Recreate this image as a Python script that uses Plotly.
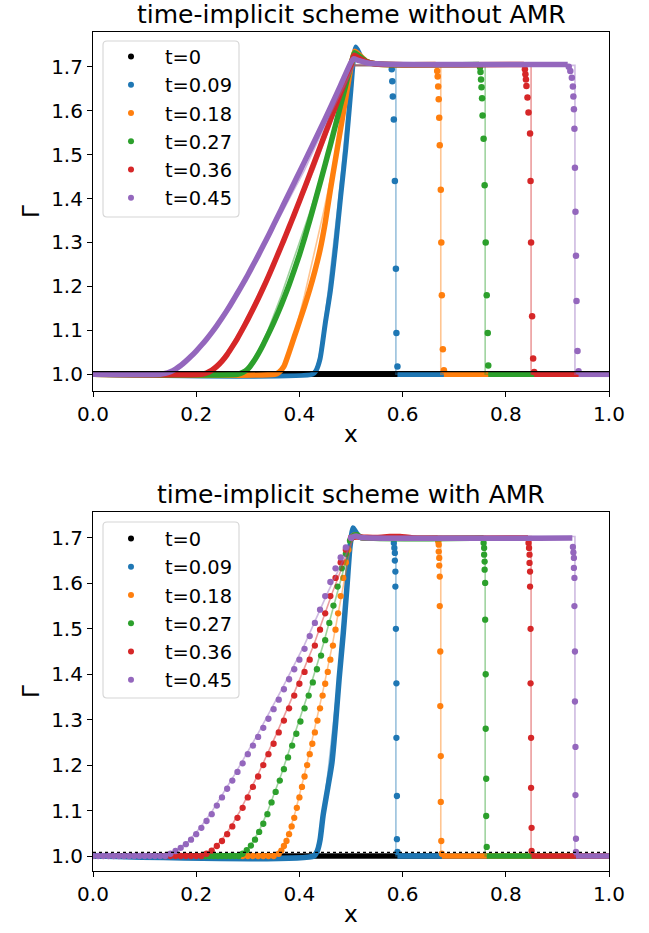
import plotly.graph_objects as go

# ---------------- labels / colours ----------------
LABELS = ["t=0", "t=0.09", "t=0.18", "t=0.27", "t=0.36", "t=0.45"]
COLORS = ["#000000", "#1f77b4", "#ff7f0e", "#2ca02c", "#d62728", "#9467bd"]
X_TICKS = [0.0, 0.2, 0.4, 0.6, 0.8, 1.0]
Y_TICKS = [1.0, 1.1, 1.2, 1.3, 1.4, 1.5, 1.6, 1.7]
TITLE_TOP = "time-implicit scheme without AMR"
TITLE_BOT = "time-implicit scheme with AMR"

# ---------------- exact solutions (faint lines) ----------------
exact_x_t0 = [0.0, 1.0]
exact_y_t0 = [1.0, 1.0]
exact_y_rare = [1.0, 1.0, 1.013, 1.033, 1.062, 1.097, 1.18, 1.27, 1.365, 1.465, 1.58, 1.69, 1.703, 1.703, 1.0, 1.0]
exact_x_t009 = [0.0, 0.428, 0.4325, 0.437, 0.4415, 0.446, 0.455, 0.464, 0.473, 0.482, 0.491, 0.5, 0.5014, 0.587, 0.587, 1.0]
exact_x_t018 = [0.0, 0.356, 0.365, 0.374, 0.383, 0.392, 0.41, 0.428, 0.446, 0.464, 0.482, 0.5, 0.5027, 0.674, 0.674, 1.0]
exact_x_t027 = [0.0, 0.284, 0.2975, 0.311, 0.3245, 0.338, 0.365, 0.392, 0.419, 0.446, 0.473, 0.5, 0.504, 0.760, 0.760, 1.0]
exact_x_t036 = [0.0, 0.212, 0.23, 0.248, 0.266, 0.284, 0.32, 0.356, 0.392, 0.428, 0.464, 0.5, 0.5054, 0.849, 0.849, 1.0]
exact_x_t045 = [0.0, 0.14, 0.1625, 0.185, 0.2075, 0.23, 0.275, 0.32, 0.365, 0.41, 0.455, 0.5, 0.5068, 0.934, 0.934, 1.0]

# ---------------- top panel (no AMR): dense numerical solution ----------------
top_body_x_t0 = [0.0, 1.0]
top_body_y_t0 = [1.0, 1.0]

top_body_x_t009 = [0.0, 0.425, 0.432, 0.44, 0.45, 0.46, 0.47, 0.48, 0.49, 0.50, 0.505, 0.509, 0.513, 0.52, 0.53, 0.545, 0.577]
top_body_y_t009 = [1.0, 1.0, 1.008, 1.035, 1.115, 1.19, 1.29, 1.405, 1.515, 1.65, 1.72, 1.745, 1.738, 1.722, 1.712, 1.707, 1.705]
top_shock_x_t009 = [0.579, 0.580, 0.581, 0.583, 0.585, 0.587, 0.588, 0.590]
top_shock_y_t009 = [1.694, 1.667, 1.632, 1.58, 1.44, 1.24, 1.094, 1.018]
top_right_x_t009 = [0.590, 1.0]

top_body_x_t018 = [0.0, 0.352, 0.36, 0.37, 0.38, 0.39, 0.40, 0.41, 0.42, 0.43, 0.44, 0.45, 0.46, 0.47, 0.48, 0.49, 0.50, 0.507, 0.515, 0.53, 0.55, 0.664]
top_body_y_t018 = [1.0, 1.0, 1.004, 1.018, 1.05, 1.085, 1.12, 1.155, 1.193, 1.235, 1.283, 1.345, 1.42, 1.49, 1.56, 1.63, 1.70, 1.735, 1.728, 1.712, 1.706, 1.705]
top_shock_x_t018 = [0.667, 0.668, 0.669, 0.670, 0.671, 0.672, 0.674, 0.675, 0.676, 0.678, 0.680]
top_shock_y_t018 = [1.69, 1.678, 1.655, 1.626, 1.584, 1.521, 1.42, 1.30, 1.18, 1.057, 1.009]
top_right_x_t018 = [0.680, 1.0]

top_body_x_t027 = [0.0, 0.28, 0.29, 0.30, 0.31, 0.32, 0.33, 0.34, 0.35, 0.36, 0.37, 0.38, 0.39, 0.40, 0.41, 0.42, 0.43, 0.44, 0.45, 0.46, 0.47, 0.48, 0.49, 0.50, 0.507, 0.515, 0.53, 0.55, 0.748]
top_body_y_t027 = [1.0, 1.0, 1.004, 1.012, 1.027, 1.046, 1.068, 1.092, 1.117, 1.144, 1.173, 1.204, 1.237, 1.272, 1.31, 1.35, 1.392, 1.435, 1.478, 1.522, 1.567, 1.613, 1.659, 1.705, 1.732, 1.725, 1.712, 1.706, 1.705]
top_shock_x_t027 = [0.750, 0.751, 0.752, 0.753, 0.754, 0.755, 0.757, 0.759, 0.761, 0.763, 0.765, 0.766]
top_shock_y_t027 = [1.699, 1.688, 1.671, 1.653, 1.628, 1.589, 1.536, 1.43, 1.30, 1.18, 1.094, 1.02]
top_right_x_t027 = [0.766, 1.0]

top_body_x_t036 = [0.0, 0.21, 0.22, 0.23, 0.24, 0.25, 0.26, 0.27, 0.28, 0.29, 0.30, 0.31, 0.32, 0.33, 0.34, 0.35, 0.36, 0.37, 0.38, 0.39, 0.40, 0.41, 0.42, 0.43, 0.44, 0.45, 0.46, 0.47, 0.48, 0.49, 0.50, 0.506, 0.515, 0.53, 0.55, 0.835]
top_body_y_t036 = [1.0, 1.0, 1.003, 1.009, 1.018, 1.03, 1.045, 1.063, 1.082, 1.103, 1.125, 1.148, 1.172, 1.197, 1.223, 1.25, 1.278, 1.306, 1.335, 1.364, 1.394, 1.424, 1.455, 1.486, 1.517, 1.548, 1.579, 1.61, 1.642, 1.674, 1.706, 1.726, 1.72, 1.711, 1.706, 1.705]
top_shock_x_t036 = [0.837, 0.838, 0.839, 0.840, 0.842, 0.844, 0.847, 0.848, 0.849, 0.851, 0.853, 0.855]
top_shock_y_t036 = [1.694, 1.683, 1.671, 1.656, 1.630, 1.596, 1.548, 1.44, 1.30, 1.132, 1.036, 1.005]
top_right_x_t036 = [0.855, 1.0]

top_body_x_t045 = [0.0, 0.13, 0.14, 0.15, 0.16, 0.17, 0.18, 0.19, 0.20, 0.21, 0.22, 0.23, 0.24, 0.25, 0.26, 0.27, 0.28, 0.29, 0.30, 0.31, 0.32, 0.33, 0.34, 0.35, 0.36, 0.37, 0.38, 0.39, 0.40, 0.42, 0.44, 0.46, 0.48, 0.50, 0.505, 0.515, 0.53, 0.56, 0.92]
top_body_y_t045 = [1.0, 1.0, 1.002, 1.006, 1.012, 1.02, 1.03, 1.041, 1.053, 1.066, 1.08, 1.095, 1.111, 1.128, 1.146, 1.165, 1.185, 1.205, 1.226, 1.248, 1.27, 1.293, 1.316, 1.34, 1.364, 1.388, 1.412, 1.436, 1.46, 1.508, 1.557, 1.607, 1.658, 1.71, 1.718, 1.714, 1.709, 1.706, 1.705]
top_shock_x_t045 = [0.922, 0.925, 0.928, 0.930, 0.931, 0.932, 0.933, 0.934, 0.935, 0.936, 0.937, 0.939, 0.941]
top_shock_y_t045 = [1.700, 1.69, 1.675, 1.655, 1.632, 1.603, 1.559, 1.47, 1.37, 1.27, 1.167, 1.053, 1.007]
top_right_x_t045 = [0.941, 1.0]

# ---------------- bottom panel (AMR) ----------------
bot_body_x_t0 = [0.0, 1.0]
bot_body_y_t0 = [1.0, 1.0]

bot_body_x_t009 = [0.0, 0.428, 0.435, 0.44, 0.446, 0.455, 0.463, 0.47, 0.477, 0.485, 0.492, 0.498, 0.504, 0.508, 0.515, 0.52, 0.582]
bot_body_y_t009 = [1.0, 1.0, 1.012, 1.035, 1.09, 1.15, 1.205, 1.29, 1.39, 1.49, 1.59, 1.68, 1.722, 1.715, 1.704, 1.70, 1.70]
bot_shock_x_t009 = [0.583, 0.584, 0.585, 0.585, 0.586, 0.586, 0.587, 0.588, 0.588, 0.589, 0.589, 0.590]
bot_shock_y_t009 = [1.689, 1.678, 1.667, 1.650, 1.626, 1.593, 1.50, 1.38, 1.26, 1.132, 1.037, 1.009]
bot_right_x_t009 = [0.590, 1.0]

bot_dots_x_t018 = [0.29, 0.30, 0.31, 0.32, 0.33, 0.34, 0.35,
                   0.360, 0.365, 0.370, 0.375, 0.380, 0.385, 0.390, 0.395, 0.400, 0.405, 0.410, 0.415, 0.420, 0.425,
                   0.430, 0.435, 0.440, 0.445, 0.450, 0.455, 0.460, 0.465, 0.470, 0.475, 0.480, 0.485, 0.490, 0.495, 0.500]
bot_dots_y_t018 = [1.0, 1.0, 1.0, 1.0, 1.0, 1.0, 1.0,
                   1.005, 1.012, 1.022, 1.033, 1.048, 1.065, 1.084, 1.106, 1.129, 1.152, 1.175, 1.200, 1.224, 1.247,
                   1.272, 1.298, 1.325, 1.353, 1.379, 1.405, 1.432, 1.463, 1.498, 1.534, 1.572, 1.612, 1.646, 1.674, 1.700]
bot_plat_x_t018 = [0.50, 0.505, 0.51, 0.52, 0.668]
bot_plat_y_t018 = [1.70, 1.706, 1.706, 1.701, 1.70]
bot_shock_x_t018 = [0.669, 0.670, 0.670, 0.671, 0.671, 0.672, 0.672, 0.673, 0.673, 0.674, 0.674, 0.675, 0.676]
bot_shock_y_t018 = [1.692, 1.685, 1.670, 1.656, 1.639, 1.615, 1.55, 1.45, 1.33, 1.22, 1.119, 1.033, 1.005]
bot_right_x_t018 = [0.676, 1.0]

bot_dots_x_t027 = [0.21, 0.218, 0.226, 0.234, 0.242, 0.25, 0.258, 0.266, 0.274, 0.282,
                   0.29, 0.298, 0.306, 0.314, 0.322, 0.33, 0.338, 0.346, 0.354, 0.362, 0.37, 0.378, 0.386, 0.394,
                   0.402, 0.41, 0.418, 0.426, 0.434, 0.442, 0.45, 0.458, 0.466, 0.474, 0.482, 0.49, 0.498]
bot_dots_y_t027 = [1.0, 1.0, 1.0, 1.0, 1.0, 1.0, 1.0, 1.0, 1.0, 1.0,
                   1.005, 1.013, 1.023, 1.036, 1.053, 1.071, 1.092, 1.118, 1.141, 1.166, 1.191, 1.217, 1.243, 1.269,
                   1.296, 1.325, 1.353, 1.382, 1.411, 1.441, 1.475, 1.513, 1.551, 1.593, 1.633, 1.665, 1.694]
bot_plat_x_t027 = [0.498, 0.505, 0.512, 0.52, 0.757]
bot_plat_y_t027 = [1.694, 1.705, 1.707, 1.701, 1.70]
bot_shock_x_t027 = [0.757, 0.758, 0.758, 0.759, 0.759, 0.760, 0.760, 0.761, 0.761, 0.762, 0.762, 0.763]
bot_shock_y_t027 = [1.689, 1.678, 1.663, 1.648, 1.630, 1.601, 1.52, 1.40, 1.28, 1.17, 1.088, 1.020]
bot_right_x_t027 = [0.763, 1.0]

bot_dots_x_t036 = [0.14, 0.15, 0.16, 0.17, 0.18, 0.19, 0.20, 0.21,
                   0.22, 0.23, 0.24, 0.25, 0.26, 0.27, 0.28, 0.29, 0.30, 0.31, 0.32, 0.33, 0.34, 0.35, 0.36,
                   0.37, 0.38, 0.39, 0.40, 0.41, 0.42, 0.43, 0.44, 0.45, 0.46, 0.47, 0.48, 0.49, 0.50]
bot_dots_y_t036 = [1.0, 1.0, 1.0, 1.0, 1.0, 1.0, 1.0, 1.0,
                   1.005, 1.012, 1.022, 1.033, 1.048, 1.065, 1.084, 1.106, 1.129, 1.152, 1.175, 1.200, 1.224, 1.247, 1.272,
                   1.298, 1.325, 1.353, 1.379, 1.405, 1.432, 1.463, 1.498, 1.534, 1.572, 1.612, 1.646, 1.674, 1.700]
bot_plat_x_t036 = [0.50, 0.51, 0.55, 0.575, 0.595, 0.62, 0.843]
bot_plat_y_t036 = [1.70, 1.702, 1.701, 1.703, 1.703, 1.700, 1.70]
bot_shock_x_t036 = [0.844, 0.845, 0.846, 0.846, 0.847, 0.847, 0.848, 0.848, 0.849, 0.849, 0.850, 0.850]
bot_shock_y_t036 = [1.689, 1.678, 1.663, 1.645, 1.626, 1.593, 1.50, 1.38, 1.26, 1.15, 1.062, 1.011]
bot_right_x_t036 = [0.850, 1.0]

bot_dots_x_t045 = [0.00, 0.01, 0.02, 0.03, 0.04, 0.05, 0.06, 0.07, 0.08, 0.09, 0.10, 0.11, 0.12, 0.13, 0.14,
                   0.15, 0.16, 0.17, 0.18, 0.19, 0.20, 0.21, 0.22, 0.23, 0.24, 0.25, 0.26, 0.27, 0.28, 0.29, 0.30,
                   0.31, 0.32, 0.33, 0.34, 0.35, 0.36, 0.37, 0.38, 0.39, 0.40, 0.41, 0.42, 0.43, 0.44, 0.45, 0.46,
                   0.47, 0.48, 0.49, 0.50]
bot_dots_y_t045 = [1.0, 1.0, 1.0, 1.0, 1.0, 1.0, 1.0, 1.0, 1.0, 1.0, 1.0, 1.0, 1.0, 1.0, 1.0,
                   1.005, 1.011, 1.018, 1.026, 1.036, 1.048, 1.062, 1.077, 1.092, 1.111, 1.129, 1.148, 1.166, 1.185, 1.204, 1.224,
                   1.243, 1.262, 1.282, 1.302, 1.323, 1.344, 1.367, 1.389, 1.411, 1.432, 1.456, 1.484, 1.513, 1.542, 1.572, 1.603,
                   1.633, 1.657, 1.679, 1.700]
bot_plat_x_t045 = [0.50, 0.505, 0.51, 0.52, 0.929]
bot_plat_y_t045 = [1.70, 1.703, 1.704, 1.701, 1.70]
bot_shock_x_t045 = [0.930, 0.931, 0.932, 0.932, 0.933, 0.933, 0.934, 0.934, 0.935, 0.935, 0.936, 0.936]
bot_shock_y_t045 = [1.680, 1.668, 1.656, 1.634, 1.612, 1.55, 1.45, 1.34, 1.24, 1.134, 1.038, 1.009]
bot_right_x_t045 = [0.936, 1.0]

FLAT_Y = [1.0, 1.0]
REF_LINE_Y_TOP = [1.006, 1.006]
REF_LINE_Y_BOT = [1.008, 1.008]

# ---------------- figure ----------------
FONT = "DejaVu Sans"
fig = go.Figure()

def thick(x, y, color, ax, w=5.5):
    fig.add_trace(go.Scatter(x=x, y=y, mode="lines", line=dict(color=color, width=w, shape="spline", smoothing=0.6),
                             xaxis="x" + ax, yaxis="y" + ax, showlegend=False, hoverinfo="skip"))

def dots(x, y, color, ax, s=6.5):
    fig.add_trace(go.Scatter(x=x, y=y, mode="markers", marker=dict(color=color, size=s, line=dict(width=0)),
                             xaxis="x" + ax, yaxis="y" + ax, showlegend=False, hoverinfo="skip"))

def exact(x, y, color, ax):
    fig.add_trace(go.Scatter(x=x, y=y, mode="lines", line=dict(color=color, width=1.6), opacity=0.45,
                             xaxis="x" + ax, yaxis="y" + ax, showlegend=False, hoverinfo="skip"))

exact_x = [exact_x_t009, exact_x_t018, exact_x_t027, exact_x_t036, exact_x_t045]

# top panel
top_bodies = [(top_body_x_t009, top_body_y_t009), (top_body_x_t018, top_body_y_t018),
              (top_body_x_t027, top_body_y_t027), (top_body_x_t036, top_body_y_t036),
              (top_body_x_t045, top_body_y_t045)]
top_shocks = [(top_shock_x_t009, top_shock_y_t009), (top_shock_x_t018, top_shock_y_t018),
              (top_shock_x_t027, top_shock_y_t027), (top_shock_x_t036, top_shock_y_t036),
              (top_shock_x_t045, top_shock_y_t045)]
top_rights = [top_right_x_t009, top_right_x_t018, top_right_x_t027, top_right_x_t036, top_right_x_t045]

thick(top_body_x_t0, top_body_y_t0, COLORS[0], "")
for i in range(5):
    c = COLORS[i + 1]
    bx, by = top_bodies[i]
    thick(bx, by, c, "", w=5.0 if i == 0 else 5.5)
    sx, sy = top_shocks[i]
    dots(sx, sy, c, "")
    thick(top_rights[i], FLAT_Y, c, "")
    exact(exact_x[i], exact_y_rare, c, "")
fig.add_trace(go.Scatter(x=exact_x_t0, y=REF_LINE_Y_TOP, mode="lines", line=dict(color="black", width=1.3),
                         xaxis="x", yaxis="y", showlegend=False, hoverinfo="skip"))

# bottom panel
bot_dots = [None, (bot_dots_x_t018, bot_dots_y_t018), (bot_dots_x_t027, bot_dots_y_t027),
            (bot_dots_x_t036, bot_dots_y_t036), (bot_dots_x_t045, bot_dots_y_t045)]
bot_plats = [None, (bot_plat_x_t018, bot_plat_y_t018), (bot_plat_x_t027, bot_plat_y_t027),
             (bot_plat_x_t036, bot_plat_y_t036), (bot_plat_x_t045, bot_plat_y_t045)]
bot_shocks = [(bot_shock_x_t009, bot_shock_y_t009), (bot_shock_x_t018, bot_shock_y_t018),
              (bot_shock_x_t027, bot_shock_y_t027), (bot_shock_x_t036, bot_shock_y_t036),
              (bot_shock_x_t045, bot_shock_y_t045)]
bot_rights = [bot_right_x_t009, bot_right_x_t018, bot_right_x_t027, bot_right_x_t036, bot_right_x_t045]

thick(bot_body_x_t0, bot_body_y_t0, COLORS[0], "2")
for i in range(5):
    c = COLORS[i + 1]
    if i == 0:
        thick(bot_body_x_t009, bot_body_y_t009, c, "2", w=5.5)
    else:
        px_, py_ = bot_plats[i]
        thick(px_, py_, c, "2")
        dx, dy = bot_dots[i]
        dots(dx, dy, c, "2", s=6.3)
    sx, sy = bot_shocks[i]
    dots(sx, sy, c, "2", s=6.3)
    thick(bot_rights[i], FLAT_Y, c, "2")
    exact(exact_x[i], exact_y_rare, c, "2")
fig.add_trace(go.Scatter(x=exact_x_t0, y=REF_LINE_Y_BOT, mode="lines",
                         line=dict(color="black", width=1.2, dash="dot"),
                         xaxis="x2", yaxis="y2", showlegend=False, hoverinfo="skip"))

# legend entries
for leg in ["legend", "legend2"]:
    for lab, c in zip(LABELS, COLORS):
        fig.add_trace(go.Scatter(x=[None], y=[None], mode="markers", name=lab,
                                 marker=dict(color=c, size=6),
                                 legend=leg, showlegend=True,
                                 xaxis="x" if leg == "legend" else "x2",
                                 yaxis="y" if leg == "legend" else "y2"))

W, H = 649, 933
L, R, T, B = 93, 40, 32, 62
PW = W - L - R
PH = H - T - B
def py(px):          # window pixel (y) -> paper coordinate
    return (H - B - px) / PH
def pxx(px):         # window pixel (x) -> paper coordinate
    return (px - L) / PW

axis_common = dict(showline=True, linecolor="black", linewidth=1.1, mirror=True,
                   ticks="outside", ticklen=5, tickwidth=1.1, tickcolor="black",
                   showgrid=False, zeroline=False, automargin=False,
                   tickfont=dict(family=FONT, size=20, color="black"))

def legend_box(top_px, bot_px, left_px=103, right_px=239, r=4):
    x0, x1 = pxx(left_px), pxx(right_px)
    y0, y1 = py(bot_px), py(top_px)
    rx, ry = r / PW, r / PH
    path = (f"M {x0+rx},{y1} L {x1-rx},{y1} Q {x1},{y1} {x1},{y1-ry} "
            f"L {x1},{y0+ry} Q {x1},{y0} {x1-rx},{y0} L {x0+rx},{y0} Q {x0},{y0} {x0},{y0+ry} "
            f"L {x0},{y1-ry} Q {x0},{y1} {x0+rx},{y1} Z")
    return dict(type="path", path=path, xref="paper", yref="paper",
                line=dict(color="#d5d5d5", width=1.1), fillcolor="rgba(255,255,255,0.85)", layer="above")

legend_common = dict(xanchor="left", yanchor="top", bgcolor="rgba(0,0,0,0)", borderwidth=0,
                     font=dict(family=FONT, size=19.4, color="black"), itemwidth=58)

fig.update_layout(
    width=W, height=H,
    margin=dict(l=L, r=R, t=T, b=B),
    plot_bgcolor="white", paper_bgcolor="white",
    font=dict(family=FONT, color="black"),
    xaxis=dict(domain=[0, 1], anchor="y", range=[0, 1], tickvals=X_TICKS, tickformat=".1f",
               title=dict(text="x", font=dict(family=FONT, size=23.3), standoff=0), **axis_common),
    yaxis=dict(domain=[py(391), 1.0], anchor="x", range=[0.962, 1.779], tickvals=Y_TICKS, tickformat=".1f",
               title=dict(text="Γ", font=dict(family=FONT, size=23.3), standoff=4), **axis_common),
    xaxis2=dict(domain=[0, 1], anchor="y2", range=[0, 1], tickvals=X_TICKS, tickformat=".1f",
                title=dict(text="x", font=dict(family=FONT, size=23.3), standoff=0), **axis_common),
    yaxis2=dict(domain=[0, py(512)], anchor="x2", range=[0.967, 1.757], tickvals=Y_TICKS, tickformat=".1f",
                title=dict(text="Γ", font=dict(family=FONT, size=23.3), standoff=4), **axis_common),
    legend=dict(x=pxx(97), y=py(37.5), **legend_common),
    legend2=dict(x=pxx(97), y=py(519.5), **legend_common),
    shapes=[legend_box(41, 217), legend_box(522, 698)],
    annotations=[
        dict(text=TITLE_TOP, x=0.5, y=py(14), xref="paper", yref="paper", showarrow=False,
             xanchor="center", yanchor="middle", font=dict(family=FONT, size=25, color="black")),
        dict(text=TITLE_BOT, x=0.5, y=py(494), xref="paper", yref="paper", showarrow=False,
             xanchor="center", yanchor="middle", font=dict(family=FONT, size=25, color="black")),
    ],
)

# remove the browser's default 8 px body margin so the figure fills the window exactly
fig.write_html("out.html", config={"displayModeBar": False},
               post_script="document.body.style.margin='0';")
